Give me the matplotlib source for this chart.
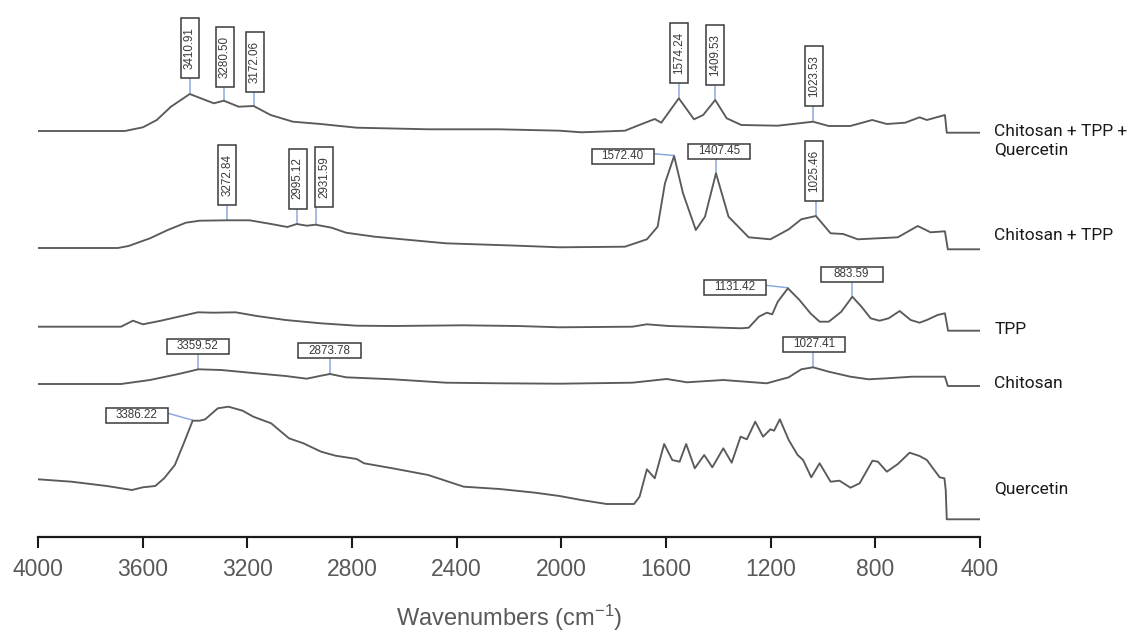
import numpy as np
import matplotlib
matplotlib.use("Agg")
import matplotlib.pyplot as plt
from matplotlib.patches import Rectangle

plt.rcParams['font.family'] = ['Liberation Sans', 'DejaVu Sans']
plt.rcParams['mathtext.default'] = 'regular'

# sample names (top to bottom) and stacking offsets
names = ["Chitosan + TPP +\nQuercetin", "Chitosan + TPP", "TPP", "Chitosan", "Quercetin"]
offsets = [4.06, 2.89, 2.10, 1.53, 0.57]
name_y = [3.96, 3.01, 2.08, 1.54, 0.48]

# Chitosan + TPP + Quercetin
wn_ctq = [4000, 3668, 3599, 3546, 3492, 3420, 3328, 3290, 3233, 3176, 3111, 3026, 2920, 2782,
          2507, 2236, 2007, 1923, 1757, 1702, 1643, 1618, 1551, 1493, 1458, 1412, 1368, 1312,
          1173, 1038, 978, 896, 812, 756, 686, 631, 603, 534, 527, 400]
ab_ctq = [0, 0, 0.037, 0.11, 0.243, 0.37, 0.277, 0.303, 0.243, 0.25, 0.16, 0.093, 0.07, 0.033,
          0.017, 0.017, 0.003, -0.013, 0.003, 0.06, 0.12, 0.083, 0.327, 0.117, 0.16, 0.31, 0.127, 0.06,
          0.053, 0.093, 0.05, 0.05, 0.11, 0.07, 0.083, 0.137, 0.11, 0.16, -0.017, -0.017]

# Chitosan + TPP
wn_ct = [4000, 3695, 3654, 3572, 3504, 3435, 3382, 3278, 3191, 3109, 3047, 3011, 2973, 2939,
         2878, 2823, 2713, 2442, 2167, 2007, 1757, 1673, 1632, 1604, 1569, 1535, 1486, 1451,
         1409, 1361, 1284, 1201, 1131, 1083, 1027, 971, 923, 867, 714, 638, 589, 534, 523, 400]
ab_ct = [0, 0, 0.02, 0.097, 0.18, 0.253, 0.273, 0.277, 0.277, 0.24, 0.21, 0.24, 0.223, 0.233,
         0.203, 0.153, 0.113, 0.047, 0.023, 0.007, 0.013, 0.087, 0.213, 0.647, 0.92, 0.547, 0.18, 0.313,
         0.747, 0.313, 0.107, 0.087, 0.187, 0.287, 0.32, 0.147, 0.14, 0.087, 0.107, 0.22, 0.157, 0.167,
         -0.013, -0.013]

# TPP
wn_tpp = [4000, 3683, 3637, 3599, 3530, 3463, 3389, 3328, 3245, 3164, 3054, 2920, 2782, 2645,
          2374, 2167, 2007, 1729, 1673, 1590, 1312, 1284, 1245, 1215, 1194, 1173, 1134, 1090,
          1048, 1013, 978, 930, 888, 853, 818, 784, 749, 707, 665, 631, 603, 562, 534, 522, 400]
ab_tpp = [0.003, 0.003, 0.063, 0.027, 0.063, 0.103, 0.147, 0.143, 0.147, 0.11, 0.07, 0.037, 0.013, 0.01,
          0.017, 0.01, -0.003, 0.003, 0.027, 0.01, -0.013, -0.007, 0.103, 0.143, 0.127, 0.253, 0.387, 0.27,
          0.137, 0.053, 0.053, 0.153, 0.303, 0.203, 0.087, 0.063, 0.087, 0.16, 0.07, 0.043, 0.07, 0.12,
          0.137, -0.037, -0.037]

# Chitosan
wn_chi = [4000, 3683, 3572, 3463, 3387, 3300, 3191, 3054, 2973, 2918, 2884, 2823, 2645, 2441,
          2236, 2007, 1729, 1597, 1520, 1381, 1215, 1131, 1083, 1038, 978, 895, 825, 756, 659,
          534, 523, 400]
ab_chi = [0, 0, 0.04, 0.1, 0.147, 0.14, 0.113, 0.08, 0.053, 0.083, 0.1, 0.067, 0.047, 0.013,
          0.007, 0.003, 0.013, 0.05, 0.017, 0.04, 0.007, 0.067, 0.147, 0.167, 0.123, 0.073, 0.047, 0.057,
          0.073, 0.073, -0.02, -0.02]

# Quercetin
wn_que = [4000, 3872, 3737, 3641, 3599, 3552, 3518, 3477, 3443, 3409, 3382, 3361, 3313, 3272,
          3218, 3177, 3109, 3041, 2986, 2918, 2863, 2782, 2754, 2645, 2509, 2373, 2236, 2100,
          2007, 1924, 1827, 1722, 1701, 1673, 1643, 1607, 1576, 1548, 1523, 1490, 1454, 1423,
          1381, 1349, 1315, 1291, 1259, 1229, 1201, 1187, 1165, 1131, 1097, 1076, 1045, 1013,
          971, 937, 895, 860, 811, 790, 756, 714, 669, 631, 603, 575, 554, 536, 531, 527, 400]
ab_que = [0.007, -0.017, -0.06, -0.1, -0.073, -0.06, 0.017, 0.15, 0.367, 0.593, 0.593, 0.607, 0.717, 0.733,
          0.693, 0.633, 0.567, 0.417, 0.367, 0.283, 0.243, 0.21, 0.167, 0.117, 0.05, -0.067, -0.09, -0.127,
          -0.16, -0.2, -0.24, -0.24, -0.167, 0.107, 0.017, 0.36, 0.2, 0.183, 0.36, 0.117, 0.25, 0.127,
          0.317, 0.173, 0.433, 0.407, 0.583, 0.433, 0.507, 0.493, 0.607, 0.4, 0.25, 0.2, 0.027, 0.167,
          -0.017, -0.007, -0.077, -0.033, 0.193, 0.183, 0.083, 0.16, 0.273, 0.24, 0.2, 0.1, 0.027, 0.017,
          -0.1, -0.393, -0.393]

spectra = [(wn_ctq, ab_ctq), (wn_ct, ab_ct), (wn_tpp, ab_tpp), (wn_chi, ab_chi), (wn_que, ab_que)]

# peak labels: spectrum index, text, peak position on the curve
peak_curve = [0, 0, 0, 0, 0, 0, 1, 1, 1, 1, 1, 1, 2, 2, 3, 3, 3, 4]
peak_text = ["3410.91", "3280.50", "3172.06", "1574.24", "1409.53", "1023.53",
             "3272.84", "2995.12", "2931.59", "1572.40", "1407.45", "1025.46",
             "1131.42", "883.59", "3359.52", "2873.78", "1027.41", "3386.22"]
peak_wn = [3420, 3290, 3176, 1551, 1412, 1038,
           3278, 3011, 2939, 1569, 1409, 1027,
           1134, 888, 3387, 2884, 1038, 3409]

# label box layout: centre (wavenumber, y), vertical?, where the leader leaves the box
box_layout = [
    (3419, 4.89, True, 'bottom'), (3287, 4.80, True, 'bottom'), (3171, 4.75, True, 'bottom'),
    (1550, 4.845, True, 'bottom'), (1413, 4.82, True, 'bottom'), (1033, 4.61, True, 'bottom'),
    (3276, 3.625, True, 'bottom'), (3008, 3.585, True, 'bottom'), (2906, 3.595, True, 'bottom'),
    (1766, 3.81, False, 'right'), (1397, 3.86, False, 'bottom'), (1033, 3.66, True, 'bottom'),
    (1338, 2.495, False, 'right'), (891, 2.63, False, 'bottom'),
    (3389, 1.91, False, 'bottom'), (2886, 1.865, False, 'bottom'), (1034, 1.93, False, 'bottom'),
    (3622, 1.215, False, 'right'),
]

line_col = '#5a5a5a'
lead_col = '#8eaadb'
box_col = '#3a3a3a'

fig = plt.figure(figsize=(11.31, 6.36), dpi=100)
ax = fig.add_axes([38 / 1131, 99 / 636, 942 / 1131, 537 / 636])
ax.set_xlim(4000, 400)
ax.set_ylim(0, 5.37)

for (wn, ab), off in zip(spectra, offsets):
    ax.plot(wn, np.array(ab) + off, color=line_col, lw=1.35, zorder=2, solid_joinstyle='round')

# box size in data units
hw, hh = 237, 0.15      # horizontal box (width in cm-1, height)
vw, vh = 69, 0.60       # vertical box

for ci, txt, pw, (bx, by, vert, side) in zip(peak_curve, peak_text, peak_wn, box_layout):
    wn, ab = spectra[ci]
    py = offsets[ci] + np.interp(pw, wn[::-1], ab[::-1])
    w, h = (vw, vh) if vert else (hw, hh)
    ax.add_patch(Rectangle((bx + w / 2, by - h / 2), -w, h, facecolor='white',
                           edgecolor=box_col, lw=1.1, zorder=4))
    ax.text(bx, by, txt, rotation=90 if vert else 0, ha='center', va='center',
            fontsize=8.4, color=box_col, zorder=5)
    if side == 'bottom':
        sx, sy = bx, by - h / 2
        if abs(bx - pw) < 40:
            sx = pw
    else:
        sx, sy = bx - w / 2, by + h * 0.15
    ax.plot([sx, pw], [sy, py + 0.005], color=lead_col, lw=1.1, zorder=1)

for name, ny in zip(names, name_y):
    ax.text(345, ny, name, ha='left', va='center', fontsize=12.5, family='Roboto',
            color='#1a1a1a', clip_on=False, linespacing=1.25)

for s in ['left', 'top', 'right']:
    ax.spines[s].set_visible(False)
ax.spines['bottom'].set_linewidth(1.6)
ax.spines['bottom'].set_color('#1a1a1a')
ax.set_yticks([])
ax.set_xticks(np.arange(4000, 399, -400))
ax.tick_params(axis='x', direction='out', length=8, width=1.5, color='#1a1a1a',
               labelsize=16.5, labelcolor='#595959', pad=7)
ax.set_xlabel('Wavenumbers (cm$^{-1}$)', fontsize=17, color='#595959', labelpad=16)

fig.savefig('out.png', dpi=100)
